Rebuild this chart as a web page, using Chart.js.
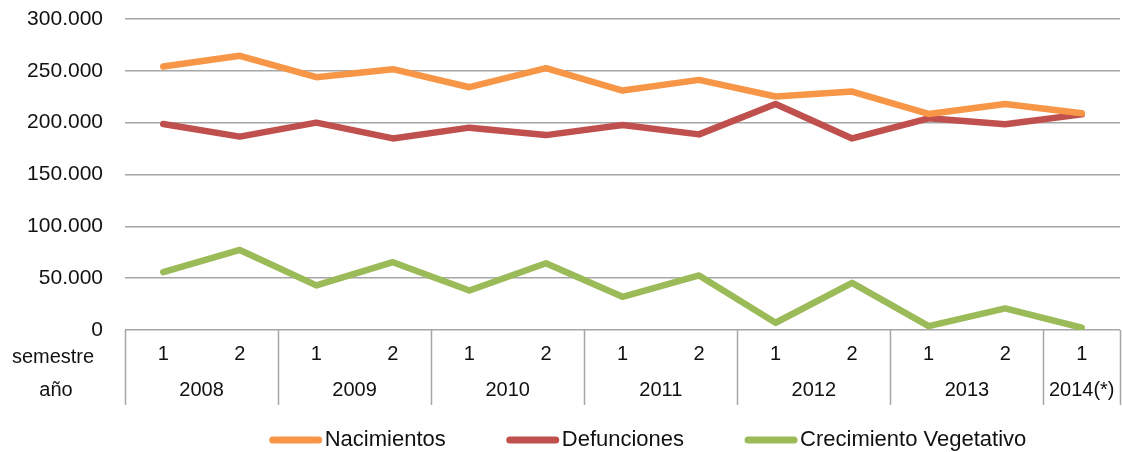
<!DOCTYPE html>
<html>
<head>
<meta charset="utf-8">
<script src="https://cdn.jsdelivr.net/npm/chart.js@4.4.0/dist/chart.umd.min.js"></script>
<style>
  body { margin: 0; background: #fff; }
  #wrap { width: 1122px; height: 452px; }
</style>
</head>
<body>
<div id="wrap"><canvas id="grafico" width="1122" height="452"></canvas></div>
<script>
// semestre y año de cada punto
const semestres = ['1', '2', '1', '2', '1', '2', '1', '2', '1', '2', '1', '2', '1'];
const anios = ['2008', '2008', '2009', '2009', '2010', '2010', '2011', '2011', '2012', '2012', '2013', '2013', '2014(*)'];

// valores
const nacimientos = [254200, 264500, 243900, 251600, 234200, 252600, 231000, 241300, 225200, 230000, 208400, 218000, 209000];
const defunciones = [198700, 186500, 200000, 184800, 195200, 188000, 197700, 188700, 218000, 184800, 204200, 198400, 208000];
const crecimiento = [55800, 77200, 43000, 65400, 38100, 64400, 32000, 52600, 7000, 45500, 3800, 20800, 2200];

const FUENTE = '"Liberation Sans", Arial, sans-serif';
const TEXTO = '#111';
const GRIS = '#a6a6a6';

const ctx = document.getElementById('grafico').getContext('2d');

const formato = v => String(v).replace(/\B(?=(\d{3})+(?!\d))/g, '.');

// caja del eje x con semestres y años, y la leyenda
const ejeAnios = {
  id: 'ejeAnios',
  afterDraw(chart) {
    const { ctx, chartArea } = chart;
    const x = chart.scales.x;
    const abajo = chartArea.bottom;
    const fondo = abajo + 75;

    // grupos de años consecutivos
    const grupos = [];
    anios.forEach((a, i) => {
      const g = grupos[grupos.length - 1];
      if (g && g.anio === a) g.fin = i;
      else grupos.push({ anio: a, ini: i, fin: i });
    });

    ctx.save();
    ctx.strokeStyle = GRIS;
    ctx.lineWidth = 1.5;
    const borde = i => {
      if (i <= 0) return chartArea.left;
      if (i >= semestres.length) return chartArea.right;
      return (x.getPixelForValue(i - 1) + x.getPixelForValue(i)) / 2;
    };
    const lineas = [0];
    grupos.forEach(g => lineas.push(g.fin + 1));
    lineas.forEach(i => {
      const px = Math.round(borde(i)) + 0.5;
      ctx.beginPath();
      ctx.moveTo(px, abajo);
      ctx.lineTo(px, fondo);
      ctx.stroke();
    });

    ctx.fillStyle = TEXTO;
    ctx.font = '20px ' + FUENTE;
    ctx.textAlign = 'center';
    ctx.textBaseline = 'middle';
    grupos.forEach(g => {
      const cx = (borde(g.ini) + borde(g.fin + 1)) / 2;
      ctx.fillText(g.anio, cx, abajo + 60);
    });
    ctx.fillText('semestre', 53, abajo + 27);
    ctx.fillText('año', 56, abajo + 60);

    // leyenda
    ctx.font = '22px ' + FUENTE;
    const items = chart.data.datasets.map(d => ({
      texto: d.label,
      color: d.borderColor,
      ancho: 52 + 3 + ctx.measureText(d.label).width
    }));
    const sep = 61;
    const total = items.reduce((s, it) => s + it.ancho, 0) + sep * (items.length - 1);
    let px = 648 - total / 2;
    const py = 440;
    ctx.textAlign = 'left';
    items.forEach(it => {
      ctx.strokeStyle = it.color;
      ctx.lineWidth = 7;
      ctx.lineCap = 'round';
      ctx.beginPath();
      ctx.moveTo(px + 3, py);
      ctx.lineTo(px + 49, py);
      ctx.stroke();
      ctx.fillStyle = TEXTO;
      ctx.fillText(it.texto, px + 55, py);
      px += it.ancho + sep;
    });
    ctx.restore();
  }
};

const serie = (label, data, color) => ({
  label: label,
  data: data,
  borderColor: color,
  backgroundColor: color,
  borderWidth: 6.5,
  pointRadius: 0,
  tension: 0,
  borderJoinStyle: 'round',
  borderCapStyle: 'round'
});

new Chart(ctx, {
  type: 'line',
  data: {
    labels: semestres,
    datasets: [
      serie('Nacimientos', nacimientos, '#f79646'),
      serie('Defunciones', defunciones, '#c0504d'),
      serie('Crecimiento Vegetativo', crecimiento, '#9bbb59')
    ]
  },
  options: {
    responsive: false,
    animation: false,
    layout: { padding: { left: 0, right: 2, top: 19, bottom: 47 } },
    plugins: {
      legend: { display: false },
      tooltip: { enabled: false }
    },
    scales: {
      x: {
        offset: true,
        grid: { display: false },
        border: { display: false },
        ticks: {
          color: TEXTO,
          font: { family: FUENTE, size: 20 },
          padding: 4,
          maxRotation: 0,
          autoSkip: false
        },
        afterFit: s => { s.height = 75; }
      },
      y: {
        min: 0,
        max: 300000,
        grid: { color: GRIS, lineWidth: 1.5, drawTicks: false },
        border: { display: false },
        ticks: {
          stepSize: 50000,
          color: TEXTO,
          font: { family: FUENTE, size: 21 },
          padding: 22,
          callback: v => formato(v)
        },
        afterFit: s => { s.width = 125; s.paddingTop = 0; s.paddingBottom = 0; }
      }
    }
  },
  plugins: [ejeAnios]
});
</script>
</body>
</html>
